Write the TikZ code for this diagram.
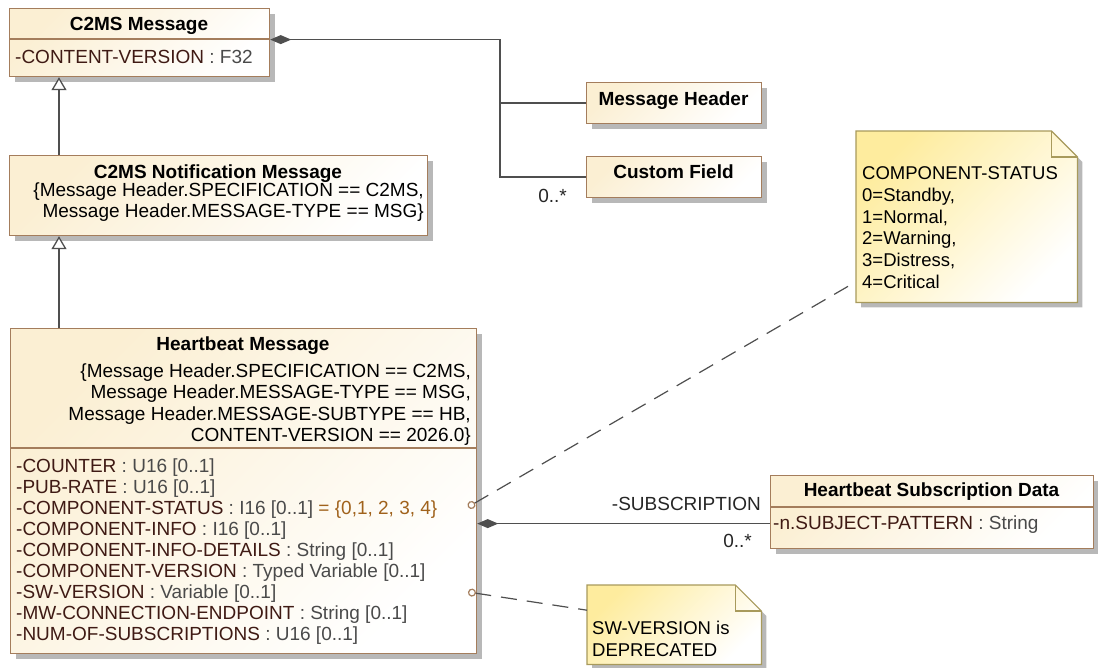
\documentclass[tikz,border=0pt]{standalone}
\usepackage{fontspec}
\setmainfont{Liberation Sans}
\usetikzlibrary{arrows.meta,positioning,shadows}

\definecolor{classfill}{HTML}{FBEFD3}
\definecolor{classline}{HTML}{A47D5C}
\definecolor{notefill}{HTML}{FEEC9E}
\definecolor{noteline}{HTML}{A89A5C}
\definecolor{linkcol}{HTML}{4F4F4F}
\definecolor{attrname}{HTML}{3F1A14}
\definecolor{attrtype}{HTML}{4A4A4A}
\definecolor{defval}{HTML}{A0621C}

\newcommand{\attr}[2]{\textcolor{attrname}{#1} \textcolor{attrtype}{: #2}}

\begin{document}
\begin{tikzpicture}[x=1pt, y=-1pt,
            font=\fontsize{19}{21}\selectfont,
            box/.style={draw=classline, line width=1.2pt, anchor=north west, inner sep=0pt,
                        top color=classfill, bottom color=white, shading angle=45,
                        drop shadow={shadow xshift=5pt, shadow yshift=-5pt, fill=black!55, opacity=.5}},
            notepaper/.style={draw=noteline, line width=1.2pt,
                        top color=notefill, bottom color=white, shading angle=45,
                        drop shadow={shadow xshift=5pt, shadow yshift=-5pt, fill=black!55, opacity=.5}},
            noteedge/.style={draw=noteline, line width=1.2pt},
            notebox/.style={anchor=north west, inner sep=0pt},
            notetext/.style={align=left, anchor=north west, inner sep=0pt,
                        font=\fontsize{18.5}{21.7}\selectfont},
            divider/.style={draw=classline, line width=1.2pt},
            title/.style={font=\fontsize{19}{21}\selectfont\bfseries, anchor=base, inner sep=0pt},
            lines/.style={align=left, anchor=north west, inner sep=0pt},
            cons/.style={align=right, anchor=north east, inner sep=0pt},
            single/.style={anchor=base west, inner sep=0pt},
            mult/.style={inner sep=0pt, text=black!85},
            link/.style={draw=linkcol, line width=1.3pt},
            comp/.style={link, {Diamond[length=21pt, width=9pt, fill=linkcol]}-},
            gen/.style={link, -{Triangle[open, length=13pt, width=15pt, fill=white]}},
            notelink/.style={draw=linkcol, line width=1.2pt, dash pattern=on 16pt off 10pt,
                        {Circle[open, length=8pt, width=8pt, color=classline]}-}]

        \useasboundingbox[fill=white] (0,0) rectangle (1098,667);

        % classes
        \node[box, minimum width=260, minimum height=68]  (c2ms)    at (9,8)    {};
        \node[box, minimum width=418, minimum height=80]  (notif)   at (9,155)  {};
        \node[box, minimum width=466, minimum height=325] (hb)      at (10,328) {};
        \node[box, minimum width=175, minimum height=41]  (mhead)   at (586,82) {};
        \node[box, minimum width=175, minimum height=41]  (cfield)  at (586,156) {};
        \node[box, minimum width=323, minimum height=73]  (subdata) at (770,475) {};

        \draw[divider] ([yshift=-31pt]c2ms.north west)   -- ([yshift=-31pt]c2ms.north east);
        \draw[divider] ([yshift=-120pt]hb.north west)    -- ([yshift=-120pt]hb.north east);
        \draw[divider] ([yshift=-32pt]subdata.north west) -- ([yshift=-32pt]subdata.north east);

        \node[title] (c2msname)  at (139,30.8)   {C2MS Message};
        \node[single] (c2msattr) at (15,63.8)    {\attr{-CONTENT-VERSION}{F32}};

        \node[title] (notifname) at (218,178.8)  {C2MS Notification Message};
        \node[cons]  (notifcons) at (424,182)
            {\strut\{Message Header.SPECIFICATION == C2MS,\\Message Header.MESSAGE-TYPE == MSG\}};

        \node[title] (hbname)    at (243,350.8)  {Heartbeat Message};
        \node[cons, font=\fontsize{19}{21.6}\selectfont] (hbcons) at (471,361.7)
            {\strut\{Message Header.SPECIFICATION == C2MS,\\Message Header.MESSAGE-TYPE == MSG,\\
             Message Header.MESSAGE-SUBTYPE == HB,\\CONTENT-VERSION == 2026.0\}};
        \node[lines] (hbattrs)   at (16,457.1)
            {\strut\attr{-COUNTER}{U16 [0..1]}\\
             \attr{-PUB-RATE}{U16 [0..1]}\\
             \attr{-COMPONENT-STATUS}{I16 [0..1]} \textcolor{defval}{= \{0,1, 2, 3, 4\}}\\
             \attr{-COMPONENT-INFO}{I16 [0..1]}\\
             \attr{-COMPONENT-INFO-DETAILS}{String [0..1]}\\
             \attr{-COMPONENT-VERSION}{Typed Variable [0..1]}\\
             \attr{-SW-VERSION}{Variable [0..1]}\\
             \attr{-MW-CONNECTION-ENDPOINT}{String [0..1]}\\
             \attr{-NUM-OF-SUBSCRIPTIONS}{U16 [0..1]}};

        \node[title] (mheadname) at (673.5,105.8) {Message Header};
        \node[title] (cfname)    at (673.5,178.8) {Custom Field};

        \node[title] (subname)   at (931.5,496.8) {Heartbeat Subscription Data};
        \node[single] (subattr)  at (773,529.8)   {\attr{-n.SUBJECT-PATTERN}{String}};

        % notes
        \node[notebox, minimum width=221, minimum height=171] (statusnote) at (856,131) {};
        \path[notepaper] (statusnote.south west) -- (statusnote.north west)
            -- ([xshift=-26pt]statusnote.north east) -- ([yshift=-26pt]statusnote.north east)
            -- (statusnote.south east) -- cycle;
        \draw[noteedge] ([xshift=-26pt]statusnote.north east) |- ([yshift=-26pt]statusnote.north east);
        \node[notetext] (statustext) at (862,164.4)
            {\strut COMPONENT-STATUS\\0=Standby,\\1=Normal,\\2=Warning,\\3=Distress,\\4=Critical};

        \node[notebox, minimum width=174, minimum height=79] (swnote) at (587,585) {};
        \path[notepaper] (swnote.south west) -- (swnote.north west)
            -- ([xshift=-26pt]swnote.north east) -- ([yshift=-26pt]swnote.north east)
            -- (swnote.south east) -- cycle;
        \draw[noteedge] ([xshift=-26pt]swnote.north east) |- ([yshift=-26pt]swnote.north east);
        \node[notetext] (swtext) at (592,619.4) {\strut SW-VERSION is\\DEPRECATED};

        % links
        \draw[gen] ([xshift=50pt]notif.north west) -- ([xshift=50pt]c2ms.south west);
        \draw[gen] ([xshift=49pt]hb.north west)    -- ([xshift=50pt]notif.south west);

        \coordinate (fork) at ([xshift=-86pt]mhead.west);
        \draw[comp] ([yshift=3pt]c2ms.east) -| (fork) |- (cfield.west);
        \draw[link] (fork) -- (mhead.west);
        \node[mult, below left=11.5pt and 19pt of cfield.west] (cfmult) {0..*};

        \coordinate (subend) at ([yshift=-11.5pt]subdata.west);
        \draw[comp] (hb.east |- subend) -- (subend);
        \node[mult, above left=13pt and 9pt of subend]  (subrole) {-SUBSCRIPTION};
        \node[mult, below left=10pt and 18pt of subend] (submult) {0..*};

        \coordinate (statuspin) at (468,507);
        \coordinate (swpin)     at (468,592);
        \draw[notelink] (statuspin) -- ([yshift=-65pt]statusnote.west);
        \draw[notelink] (swpin)     -- ([yshift=14.5pt]swnote.west);

    \end{tikzpicture}
\end{document}
